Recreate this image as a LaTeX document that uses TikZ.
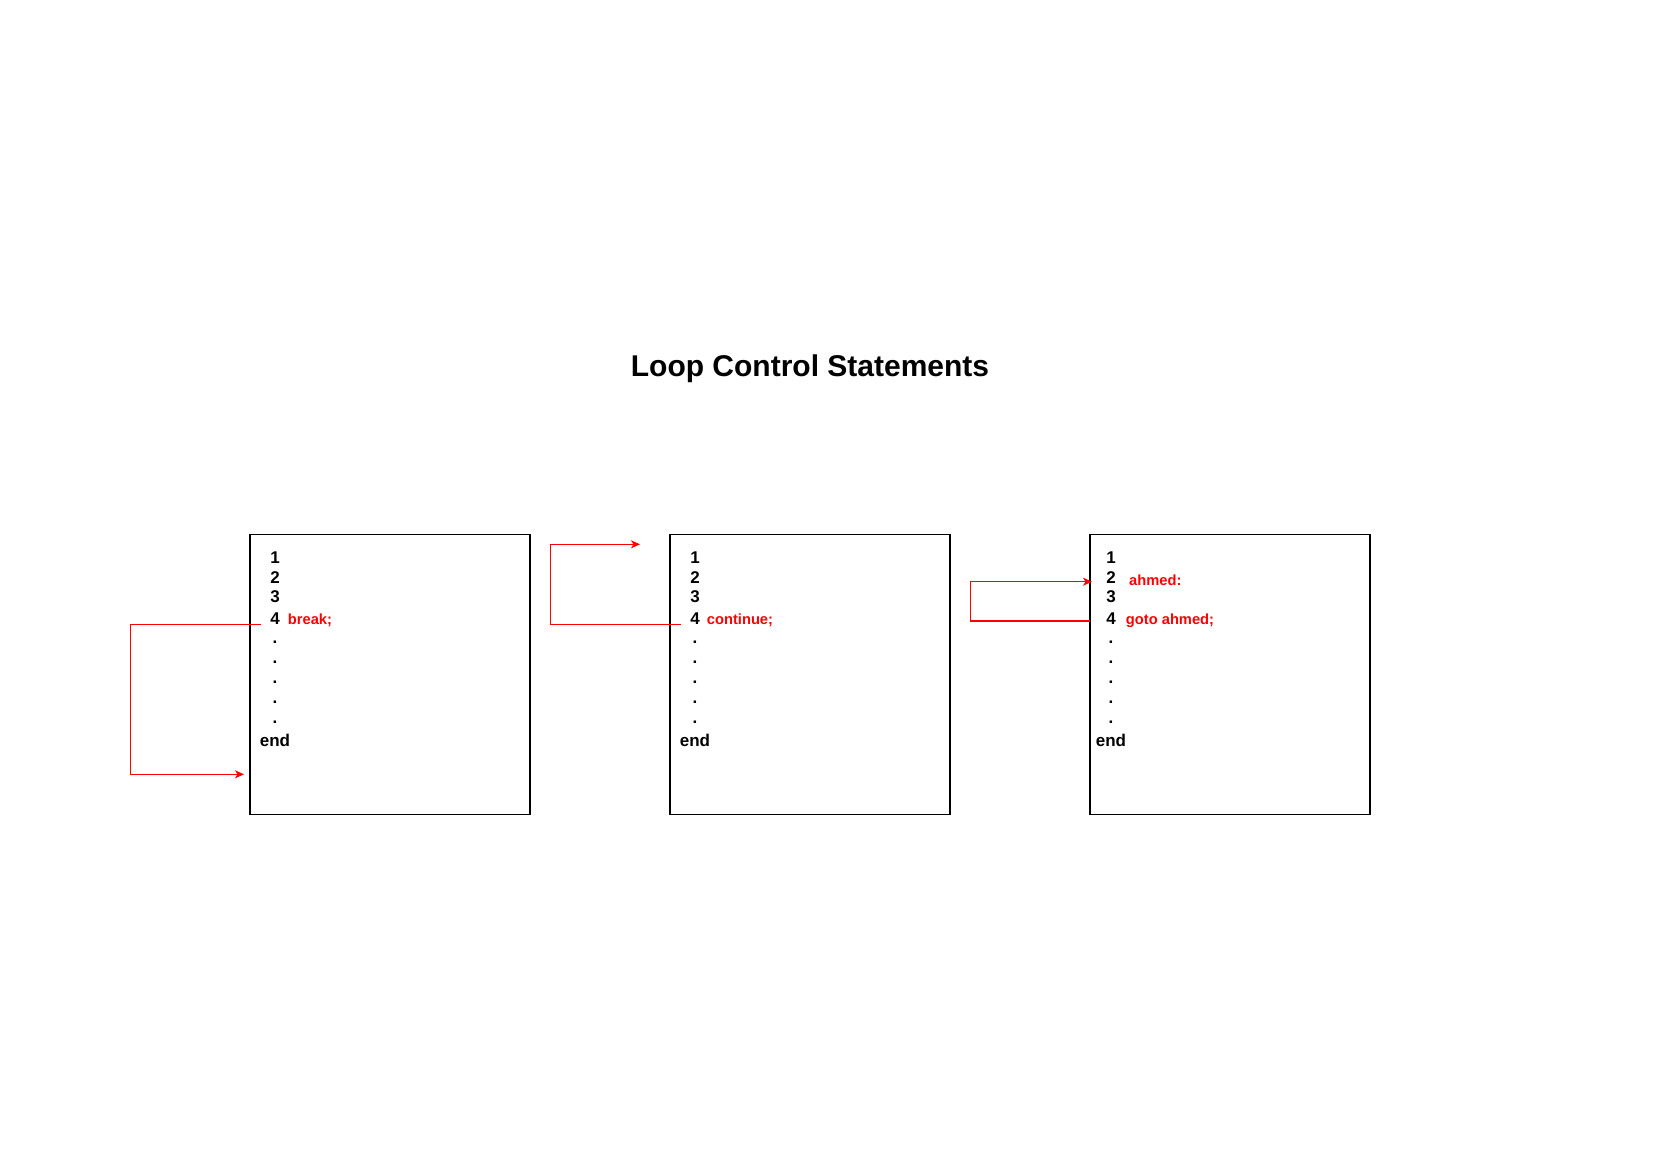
\documentclass[tikz,border=0pt]{standalone}
\usepackage{fontspec}
\setmainfont{Liberation Sans}
\usetikzlibrary{arrows.meta}
\begin{document}
\begin{tikzpicture}[x=1pt,y=-1pt,
  box/.style={draw=black,line width=1.2pt,minimum width=280pt,minimum height=280pt,inner sep=0pt},
  num/.style={font=\fontsize{17}{20}\selectfont\bfseries,inner sep=0pt,anchor=base},
  code/.style={font=\fontsize{14.7}{17}\selectfont\bfseries,text=red,inner sep=0pt,anchor=base west},
  link/.style={draw=red,line width=1.1pt,-{Stealth[length=9pt,width=8pt,inset=2.5pt]}}]
\useasboundingbox (0,0) rectangle (1654,1169);
\node[font=\fontsize{30}{36}\selectfont\bfseries,anchor=base,inner sep=0pt] (title) at (810,376.7) {Loop Control Statements};

\node[box] (b1) at (390,674.3) {};
\node[box] (b2) at (810,674.3) {};
\node[box] (b3) at (1230,674.3) {};

\foreach \bx/\cx in {1/275,2/695,3/1111}{
  \foreach \t/\yy [count=\i] in {1/563.3,2/583.3,3/602.7,4/624.3,./643,./663,./683,./703,./723,end/746}{
    \node[num] (l\bx-\i) at (\cx,\yy) {\t};
  }
}

\node[code] (brk) at (287.7,624.3) {break;};
\node[code] (cnt) at (706.7,624.3) {continue;};
\node[code] (lbl) at (1129,585) {ahmed:};
\node[code] (gto) at (1125.7,624.3) {goto ahmed;};

\coordinate (s1) at (260.7,624.3);
\coordinate (c1) at (130.7,774.3);
\coordinate (t1) at (244,774.3);
\draw[link] (s1) -| (c1) -- (t1);

\coordinate (s2) at (680.7,624.3);
\coordinate (c2) at (550.7,544.3);
\coordinate (t2) at (640,544.3);
\draw[link] (s2) -| (c2) -- (t2);

\coordinate (s3) at (1090,621);
\coordinate (c3) at (970.7,581.7);
\coordinate (t3) at (1092,581.7);
\draw[link] (s3) -| (c3) -- (t3);
\end{tikzpicture}
\end{document}
